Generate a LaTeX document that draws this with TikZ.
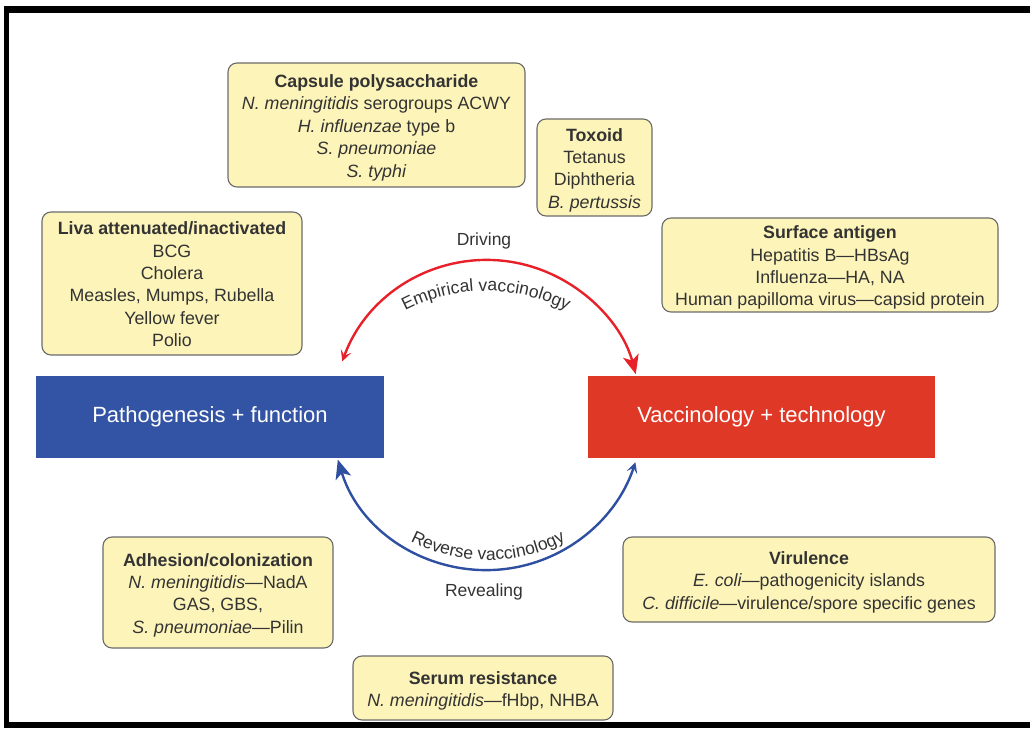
\documentclass[tikz,border=0pt]{standalone}
\usepackage{fontspec}
\setmainfont{Liberation Sans}
\usetikzlibrary{arrows.meta,decorations.text}
\definecolor{boxfill}{HTML}{FDF4B9}
\definecolor{boxline}{HTML}{6A6A6A}
\definecolor{txt}{HTML}{333333}
\definecolor{pblue}{HTML}{3354A4}
\definecolor{vred}{HTML}{E03826}
\definecolor{arcred}{HTML}{E8202A}
\definecolor{arcblue}{HTML}{2F50A0}
\newcommand{\arcfont}{\fontsize{17.5}{20}\selectfont\color{txt}}
\begin{document}
\begin{tikzpicture}[x=1pt,y=1pt,
  infobox/.style={draw=boxline, line width=1.1pt, fill=boxfill, rounded corners=9pt,
    align=center, text=txt, font=\fontsize{17.8}{22.4}\selectfont, inner sep=0pt,
    text height=#1, text depth=4.5pt},
  mainbox/.style={fill=#1, text=white, font=\fontsize{22}{26}\selectfont,
    minimum height=82pt, inner sep=0pt},
  arclabel/.style={text=txt, font=\fontsize{17.5}{20}\selectfont, inner sep=0pt},
  framebar/.style={fill=black, draw=none},
  redarc/.style={draw=arcred, line width=2.4pt},
  bluearc/.style={draw=arcblue, line width=2.4pt}
]
\useasboundingbox (0,0) rectangle (1030,734);
% frame
\fill[framebar] (4,721) rectangle (1030,728);
\fill[framebar] (4,6) rectangle (9,728);
\fill[framebar] (4,6) rectangle (1030,12);

% main boxes
\node[mainbox=pblue, minimum width=348pt] (pg) at (210,317) {Pathogenesis + function};
\node[mainbox=vred, minimum width=347pt] (vt) at (761.5,317) {Vaccinology + technology};

% info boxes
\node[infobox=108.6pt, minimum width=297pt, minimum height=124pt] (cap) at (376.5,609)
  {\textbf{Capsule polysaccharide}\\\textit{N. meningitidis} serogroups ACWY\\\textit{H. influenzae} type b\\\textit{S. pneumoniae}\\\textit{S. typhi}};
\node[infobox=86.2pt, minimum width=115pt, minimum height=97pt] (tox) at (594.5,566.5)
  {\textbf{Toxoid}\\Tetanus\\Diphtheria\\\textit{B. pertussis}};
\node[infobox=131pt, minimum width=260pt, minimum height=143pt] (liva) at (172,450.5)
  {\textbf{Liva attenuated/inactivated}\\BCG\\Cholera\\Measles, Mumps, Rubella\\Yellow fever\\Polio};
\node[infobox=86.2pt, minimum width=336pt, minimum height=94pt] (surf) at (830,469)
  {\textbf{Surface antigen}\\Hepatitis B---HBsAg\\Influenza---HA, NA\\Human papilloma virus---capsid protein};
\node[infobox=86.2pt, minimum width=230pt, minimum height=111pt] (adh) at (218,141.5)
  {\textbf{Adhesion/colonization}\\\textit{N. meningitidis}---NadA\\GAS, GBS,\\\textit{S. pneumoniae}---Pilin};
\node[infobox=63.8pt, minimum width=372pt, minimum height=85pt] (vir) at (809,154.5)
  {\textbf{Virulence}\\\textit{E. coli}---pathogenicity islands\\\textit{C. difficile}---virulence/spore specific genes};
\node[infobox=41.4pt, minimum width=260pt, minimum height=64pt] (ser) at (483,46)
  {\textbf{Serum resistance}\\\textit{N. meningitidis}---fHbp, NHBA};

% arc labels
\node[arclabel] (drv) at (484,493) {Driving};
\node[arclabel] (rev) at (484,142) {Revealing};

% arcs
\coordinate (c) at (487,320);
\draw[redarc, {Stealth[length=11pt,width=11pt,inset=5pt]}-{Stealth[length=19pt,width=16pt,inset=5pt]}]
  (c) ++(160:154) arc[start angle=160, end angle=15, radius=154];
\draw[bluearc, {Stealth[length=19pt,width=16pt,inset=5pt]}-{Stealth[length=11pt,width=11pt,inset=5pt]}]
  (c) ++(197:156) arc[start angle=197, end angle=342, radius=156];

% curved texts
\coordinate (ct) at (486,268);
\path[decorate, decoration={text along path, text align=center,
  text={|\arcfont|Empirical vaccinology}}]
  (ct) ++(128:175) arc[start angle=128, end angle=52, radius=175];
\coordinate (cb) at (488,342);
\path[decorate, decoration={text along path, text align=center,
  text={|\arcfont|Reverse vaccinology}}]
  (cb) ++(235:168) arc[start angle=235, end angle=305, radius=168];
\end{tikzpicture}
\end{document}
